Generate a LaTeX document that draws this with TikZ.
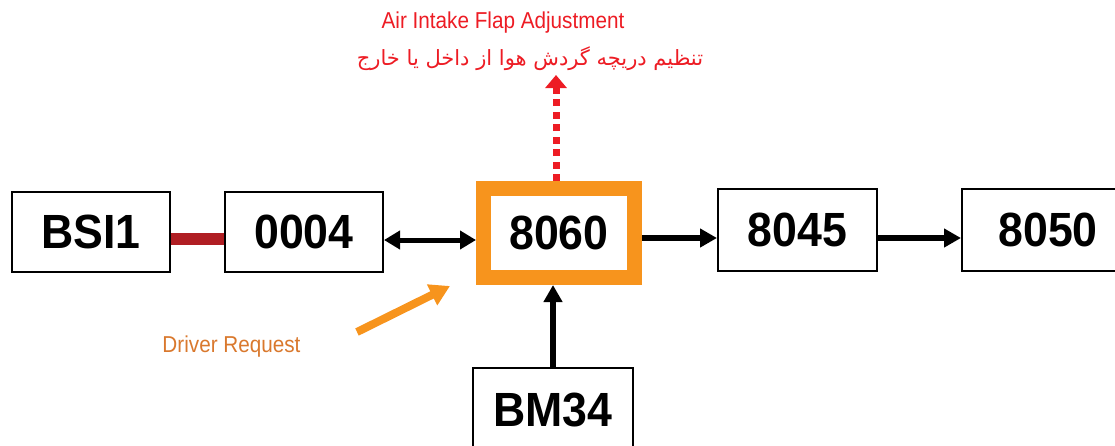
\documentclass[tikz,border=0pt]{standalone}
\usepackage{fontspec}
\setmainfont{Liberation Sans}
\newfontfamily\boxfont{Liberation Sans}[FakeStretch=0.93]
\newfontfamily\narrowfont{Liberation Sans}[FakeStretch=0.9]
\newfontfamily\arabicfont[Script=Arabic]{DejaVu Sans}
\TeXXeTstate=1
\usetikzlibrary{arrows.meta}
\definecolor{boxorange}{HTML}{F7941D}
\definecolor{flapred}{HTML}{ED1C24}
\definecolor{linkred}{HTML}{B01E23}
\definecolor{reqorange}{HTML}{D9782D}
\begin{document}
\begin{tikzpicture}[x=1pt,y=-1pt,
  ecu/.style={draw=black,line width=2pt,inner sep=0pt,
    minimum width=158pt,minimum height=80pt,
    font=\boxfont\bfseries\fontsize{48}{50}\selectfont},
  hilite/.style={draw=boxorange,line width=15pt,inner sep=0pt,
    minimum width=151pt,minimum height=89pt,
    font=\boxfont\bfseries\fontsize{48}{50}\selectfont},
  flow/.style={draw=black,line width=6pt,-{Triangle[length=17pt,width=18pt]}},
  both/.style={draw=black,line width=5pt,{Triangle[length=16pt,width=18pt]}-{Triangle[length=16pt,width=18pt]}},
  link/.style={draw=linkred,line width=12pt},
  flap/.style={draw=flapred,line width=7pt,dash pattern=on 7pt off 5.5pt,-{Triangle[length=13pt,width=21pt]}},
  req/.style={draw=boxorange,line width=8pt,-{Triangle[length=20pt,width=22pt]}},
  lbl/.style={inner sep=0pt,font=\narrowfont\fontsize{23}{25}\selectfont}
]
\useasboundingbox (0,0) rectangle (1115,445);
\clip (0,0) rectangle (1115,445);

\node[ecu] (bsi) at (91,232) {BSI1};
\node[ecu] (z) at (304,232) {0004};
\node[hilite] (o) at (559,233) {8060};
\node[ecu,minimum width=159pt,minimum height=82pt] (a) at (797.5,230) {8045};
\node[ecu,minimum width=172pt,minimum height=82pt] (b) at (1048,230) {8050};
\node[ecu,minimum width=160pt,minimum height=84pt] (m) at (553,410) {BM34};

\draw[link] ([yshift=-6.5pt]bsi.east) -- ([yshift=-6.5pt]z.west);
\draw[both] ([yshift=-8pt]z.east) -- ([yshift=-7pt]o.west);
\draw[flow] ([yshift=-5pt]o.east) -- ([yshift=-8pt]a.west);
\draw[flow] ([yshift=-8pt]a.east) -- ([yshift=-8pt]b.west);
\draw[flow] (m.north) -- (m.north |- o.south);

\coordinate (tip) at (556,75);
\draw[flap] (o.north -| tip) -- (tip);

\coordinate (drs) at (357,332);
\coordinate (dre) at (450,286);
\draw[req] (drs) -- (dre);

\node[lbl,text=flapred,anchor=base] (t1) at (503,28) {Air Intake Flap Adjustment};
\node[inner sep=0pt,text=flapred,font=\arabicfont\fontsize{21}{24}\selectfont] (t2) at (530,59) {\beginR تنظیم دریچه گردش هوا از داخل یا خارج\endR};
\node[lbl,text=reqorange,anchor=base] (t3) at (231.5,352) {Driver Request};
\end{tikzpicture}
\end{document}
